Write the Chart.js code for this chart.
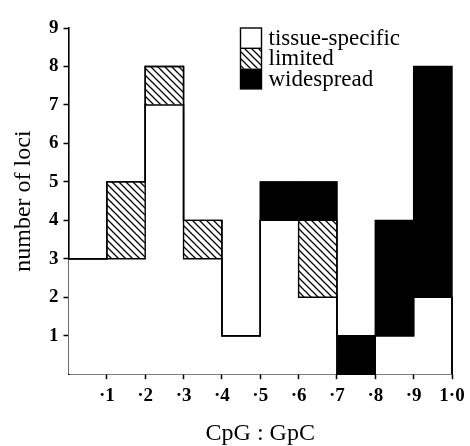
<!DOCTYPE html>
<html>
<head>
<meta charset="utf-8">
<script src="https://cdn.jsdelivr.net/npm/chart.js@4"></script>
<style>
  html, body { margin: 0; padding: 0; background: #fff; }
  canvas { display: block; }
</style>
</head>
<body>
<canvas id="chart" width="470" height="446"></canvas>
<script>
// left edge of each CpG:GpC bin
const binStarts = [0, 0.1, 0.2, 0.3, 0.4, 0.5, 0.6, 0.7, 0.8, 0.9];
const binWidth = 0.1;
const xMax = 1.0;
const xTickLabels = ['', '·1', '·2', '·3', '·4', '·5', '·6', '·7', '·8', '·9', '1·0'];
const yTickLabels = ['', '1', '2', '3', '4', '5', '6', '7', '8', '9'];

// number of loci per bin
const tissueSpecific = [3, 3, 7, 3, 1, 4, 2, 0, 1, 2];
const limited        = [0, 2, 1, 1, 0, 0, 2, 0, 0, 0];
const widespread     = [0, 0, 0, 0, 0, 1, 1, 1, 3, 6];

const serif = '"Liberation Serif", "DejaVu Serif", serif';

// hatch pattern for "limited"
function makeHatch() {
    const s = 7;
    const c = document.createElement('canvas');
    c.width = s; c.height = s;
    const g = c.getContext('2d');
    g.strokeStyle = '#000';
    g.lineWidth = 1.25;
    g.beginPath();
    g.moveTo(-1, -1); g.lineTo(s + 1, s + 1);
    g.moveTo(-1, s - 1); g.lineTo(1, s + 1);
    g.moveTo(s - 1, -1); g.lineTo(s + 1, 1);
    g.stroke();
    return document.getElementById('chart').getContext('2d').createPattern(c, 'repeat');
}
const hatch = makeHatch();

// bar centres; empty segments are left out
const centers = binStarts.map(b => b + binWidth / 2);
const toPoints = arr => arr.map((v, i) => ({ x: centers[i], y: v === 0 ? null : v }));

// cumulative levels -> step outlines of the histogram
const level1 = tissueSpecific.slice();
const level2 = level1.map((v, i) => v + limited[i]);
const level3 = level2.map((v, i) => v + widespread[i]);
function stepOutline(levels) {
    const pts = levels.map((v, i) => ({ x: binStarts[i], y: v }));
    pts.push({ x: xMax, y: levels[levels.length - 1] });
    pts.push({ x: xMax, y: 0 });
    return pts;
}

function outlineSet(levels, name) {
    return {
        type: 'line',
        label: '',
        stack: name,
        order: 0,
        data: stepOutline(levels),
        stepped: true,
        borderColor: '#000',
        borderWidth: 1.4,
        pointRadius: 0,
        fill: false,
        clip: false
    };
}

// legend drawn as a stacked key like the original figure
const stackedKey = {
    id: 'stackedKey',
    afterDraw(chart) {
        const { ctx, chartArea } = chart;
        const x = chartArea.left + 172;
        const y0 = chartArea.top;
        const w = 21, h = 20.3;
        const bars = chart.data.datasets.filter(d => d.type !== 'line');
        ctx.save();
        bars.forEach((ds, i) => {
            const y = y0 + i * h;
            ctx.fillStyle = ds.backgroundColor;
            ctx.fillRect(x, y, w, h);
            ctx.fillStyle = '#000';
            ctx.font = '23px ' + serif;
            ctx.textBaseline = 'alphabetic';
            ctx.fillText(ds.label, x + 28, y + 17);
        });
        ctx.strokeStyle = '#000';
        ctx.lineWidth = 1.4;
        ctx.strokeRect(x, y0, w, h * bars.length);
        ctx.beginPath();
        ctx.moveTo(x, y0 + h); ctx.lineTo(x + w, y0 + h);
        ctx.stroke();
        ctx.restore();
    }
};

new Chart(document.getElementById('chart'), {
    type: 'bar',
    data: {
        datasets: [
            { label: 'tissue-specific', data: toPoints(tissueSpecific), backgroundColor: '#fff', order: 1 },
            { label: 'limited', data: toPoints(limited), backgroundColor: hatch, order: 1 },
            { label: 'widespread', data: toPoints(widespread), backgroundColor: '#000', order: 1 },
            outlineSet(level1, 'o1'),
            outlineSet(level2, 'o2'),
            outlineSet(level3, 'o3')
        ]
    },
    options: {
        responsive: false,
        animation: false,
        events: [],
        barPercentage: 1,
        categoryPercentage: 1,
        borderWidth: 0,
        layout: { padding: { top: 28, right: 18, left: 2, bottom: 0 } },
        plugins: {
            legend: { display: false },
            tooltip: { enabled: false }
        },
        scales: {
            x: {
                type: 'linear',
                stacked: true,
                min: 0,
                max: xMax,
                offset: false,
                grid: {
                    offset: false,
                    drawOnChartArea: false,
                    tickLength: 5,
                    tickWidth: 1.5,
                    tickColor: c => (c.index === 0 ? 'rgba(0,0,0,0)' : '#000')
                },
                border: { color: '#000', width: 1.6 },
                ticks: {
                    stepSize: binWidth,
                    padding: 5,
                    maxRotation: 0,
                    color: '#000',
                    font: { family: serif, size: 19, weight: 'bold' },
                    callback: (v, i) => xTickLabels[i]
                },
                title: {
                    display: true,
                    text: 'CpG : GpC',
                    color: '#000',
                    font: { family: serif, size: 24, lineHeight: 1 },
                    padding: { top: 10, bottom: 0 }
                }
            },
            y: {
                stacked: true,
                min: 0,
                max: 9,
                grid: {
                    drawOnChartArea: false,
                    tickLength: 5,
                    tickWidth: 1.5,
                    tickColor: c => (c.index === 0 ? 'rgba(0,0,0,0)' : '#000')
                },
                border: { color: '#000', width: 1.6 },
                ticks: {
                    stepSize: 1,
                    padding: 5,
                    color: '#000',
                    font: { family: serif, size: 19, weight: 'bold' },
                    callback: (v, i) => yTickLabels[i]
                },
                title: {
                    display: true,
                    text: 'number of loci',
                    color: '#000',
                    font: { family: serif, size: 24, lineHeight: 1 },
                    padding: { top: 10, bottom: 8 }
                }
            }
        }
    },
    plugins: [stackedKey]
});
</script>
</body>
</html>
